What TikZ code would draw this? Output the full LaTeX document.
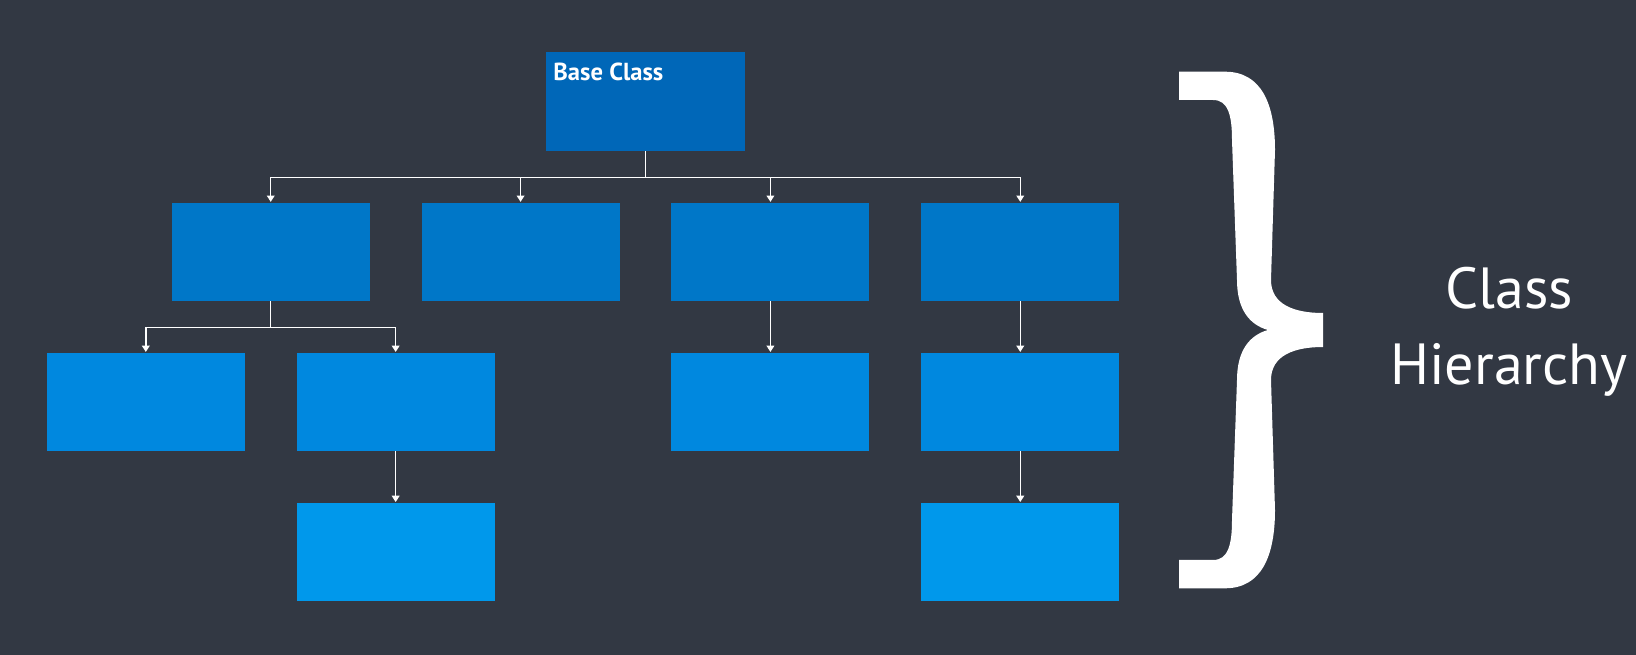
\documentclass[tikz,border=0pt]{standalone}
\usepackage{fontspec}
\setmainfont{PT Sans}
\usetikzlibrary{arrows.meta}
\definecolor{bgdark}{HTML}{323843}
\definecolor{tierA}{HTML}{0067B8}
\definecolor{tierB}{HTML}{0077C8}
\definecolor{tierC}{HTML}{0088DF}
\definecolor{tierD}{HTML}{0098EB}
\tikzset{
  cls/.style={rectangle, minimum width=1.98cm, minimum height=0.98cm, inner sep=0pt},
  clslabel/.style={text=white, font=\bfseries\fontsize{7}{8}\selectfont, inner sep=0pt},
  heading/.style={text=white, align=center, font=\fontsize{16.5}{21.6}\selectfont, inner sep=0pt},
}
\begin{document}
\begin{tikzpicture}[x=0.01cm, y=0.01cm, level distance=1.5cm, sibling distance=2.497cm,
    level 1/.style={nodes={fill=tierB}},
    level 2/.style={nodes={fill=tierC}},
    level 3/.style={nodes={fill=tierD}},
    edge from parent/.style={draw=white, line width=0.4pt, -{Triangle[length=1.8pt,width=2.2pt]}},
    edge from parent path={(\tikzparentnode.south) -- ++(0,-26) -| (\tikzchildnode.north)}]
  \fill[bgdark] (0,0) rectangle (1636,-655);
  \useasboundingbox (0,0) rectangle (1636,-655);
  % class tree
  \node[cls, fill=tierA] (base) at (645.5,-101.5) {}
    child { node[cls] (sub1) {}
      child { node[cls] (sub11) {} }
      child { node[cls] (sub12) {}
        child { node[cls] (sub121) {} } } }
    child { node[cls] (sub2) {} }
    child { node[cls] (sub3) {}
      child { node[cls] (sub31) {} } }
    child { node[cls] (sub4) {}
      child { node[cls] (sub41) {}
        child { node[cls] (sub411) {} } } };
  \node[clslabel, anchor=base west] (basetxt) at ([shift={(7,-29)}]base.north west) {Base Class};
  % brace
  \fill[white] (1179,-71.7) -- (1225,-71.7)
    .. controls (1262,-71.7) and (1275,-105) .. (1275,-150)
    -- (1271,-280)
    .. controls (1271,-305) and (1295,-313) .. (1323,-313)
    -- (1323,-347)
    .. controls (1295,-347) and (1271,-355) .. (1271,-380)
    -- (1275,-510)
    .. controls (1275,-555) and (1262,-588.3) .. (1225,-588.3)
    -- (1179,-588.3) -- (1179,-560) -- (1213,-560)
    .. controls (1228,-560) and (1232,-545) .. (1232,-520)
    -- (1237,-380)
    .. controls (1237,-350) and (1250,-335) .. (1268,-330)
    .. controls (1250,-325) and (1237,-310) .. (1237,-280)
    -- (1232,-140)
    .. controls (1232,-115) and (1228,-100) .. (1213,-100)
    -- (1179,-100) -- cycle;
  \node[heading] (hier) at (1509,-332) {Class\\Hierarchy};
\end{tikzpicture}
\end{document}
